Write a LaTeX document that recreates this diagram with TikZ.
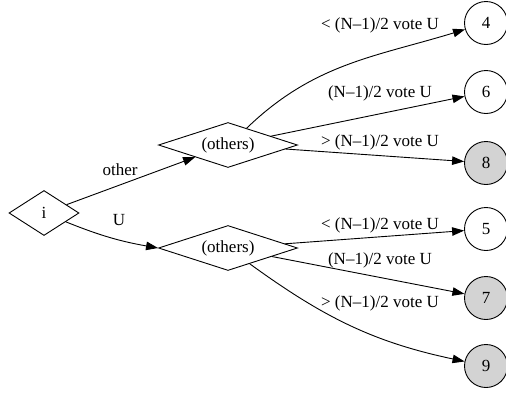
\documentclass[tikz,border=0pt]{standalone}
\usepackage{fontspec}
\setmainfont{Liberation Serif}
\usetikzlibrary{shapes.geometric,arrows.meta}
\definecolor{wongray}{HTML}{D3D3D3}
\begin{document}
\begin{tikzpicture}[x=1pt,y=1pt,line width=0.9pt,
  every node/.style={font=\fontsize{17}{20}\selectfont},
  choice/.style={draw,diamond,shape aspect=3,inner sep=0pt,minimum width=#1,minimum height=45pt},
  choice/.default=139pt,
  leaf/.style={draw,circle,minimum size=43pt,inner sep=0pt},
  won/.style={leaf,fill=wongray},
  edge/.style={-{Triangle[length=12pt,width=8.5pt]}}]
  \useasboundingbox (0,0) rectangle (506,-394);

  % decision nodes
  \node[choice=70pt] (i) at (44,-213) {i};
  \node[choice] (oth1) at (228,-145) {(others)};
  \node[choice] (oth2) at (228,-248) {(others)};

  % outcomes
  \node[leaf] (n4) at (486,-23) {4};
  \node[leaf] (n6) at (486,-92) {6};
  \node[won] (n8) at (486,-163) {8};
  \node[leaf] (n5) at (486,-229) {5};
  \node[won] (n7) at (486,-298) {7};
  \node[won] (n9) at (486,-366) {9};

  \draw[edge] (i) -- (oth1);
  \draw[edge] (i.-22) to[out=-22,in=170] (oth2.west);
  \draw[edge] (oth1.42) to[out=44,in=197] (n4);
  \draw[edge] (oth1) -- (n6);
  \draw[edge] (oth1) -- (n8);
  \draw[edge] (oth2) -- (n5);
  \draw[edge] (oth2) -- (n7);
  \draw[edge] (oth2.-36) to[out=-36,in=168] (n9);

  % edge labels
  \node (lblother) at (120,-170) {other};
  \node (lblu) at (119,-220) {U};
  \node (lbl4) at (380,-25) {< (N\textendash1)/2 vote U};
  \node (lbl6) at (380,-93) {(N\textendash1)/2 vote U};
  \node (lbl8) at (380,-142) {> (N\textendash1)/2 vote U};
  \node (lbl5) at (380,-225) {< (N\textendash1)/2 vote U};
  \node (lbl7) at (380,-260) {(N\textendash1)/2 vote U};
  \node (lbl9) at (380,-303) {> (N\textendash1)/2 vote U};
\end{tikzpicture}
\end{document}
